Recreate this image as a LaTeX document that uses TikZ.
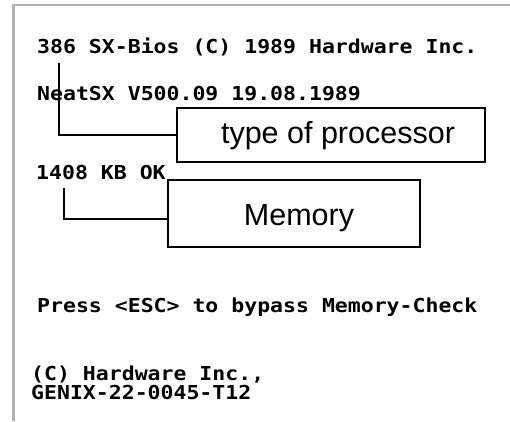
\documentclass[tikz,border=0pt]{standalone}
\usepackage{fontspec}
\setmainfont{Liberation Sans}
\newfontfamily\biosfont{DejaVu Sans Mono Bold}[FakeStretch=1.12]
\definecolor{frame}{RGB}{178,178,178}
\begin{document}
\begin{tikzpicture}[x=1pt,y=-1pt,
  bios/.style={anchor=base west,inner sep=0pt,font=\biosfont\fontsize{19.2}{19.2}\selectfont},
  label/.style={draw,line width=2pt,inner sep=0pt,font=\fontsize{30.5}{30.5}\selectfont},
  conn/.style={line width=2pt}]
\useasboundingbox[fill=white] (0,0) rectangle (510,421);
\draw[frame,line width=2.5pt] (13.5,421) -- (13.5,5) -- (510,5);
\node[bios] (l1) at (37,53) {386 SX-Bios (C) 1989 Hardware Inc.};
\node[bios] (l2) at (37,100) {NeatSX V500.09 19.08.1989};
\node[bios] (l3) at (36,179) {1408 KB OK};
\node[bios] (l4) at (37,312) {Press <ESC> to bypass Memory-Check};
\node[bios] (l5) at (31,380) {(C) Hardware Inc.,};
\node[bios] (l6) at (31,399) {GENIX-22-0045-T12};
\node[label,minimum width=308pt,minimum height=54pt,text height=22pt,text depth=6pt] (proc) at (331,135) {\hspace*{14pt}type of processor};
\node[label,minimum width=252pt,minimum height=67pt,text height=23pt,text depth=0pt] (mem) at (294,213.5) {\hspace*{10pt}Memory};
\coordinate (c1) at (59,63);
\coordinate (c2) at (64,188);
\draw[conn] (c1) |- (proc.west);
\draw[conn] (c2) |- ([yshift=-5pt]mem.west);
\end{tikzpicture}
\end{document}
